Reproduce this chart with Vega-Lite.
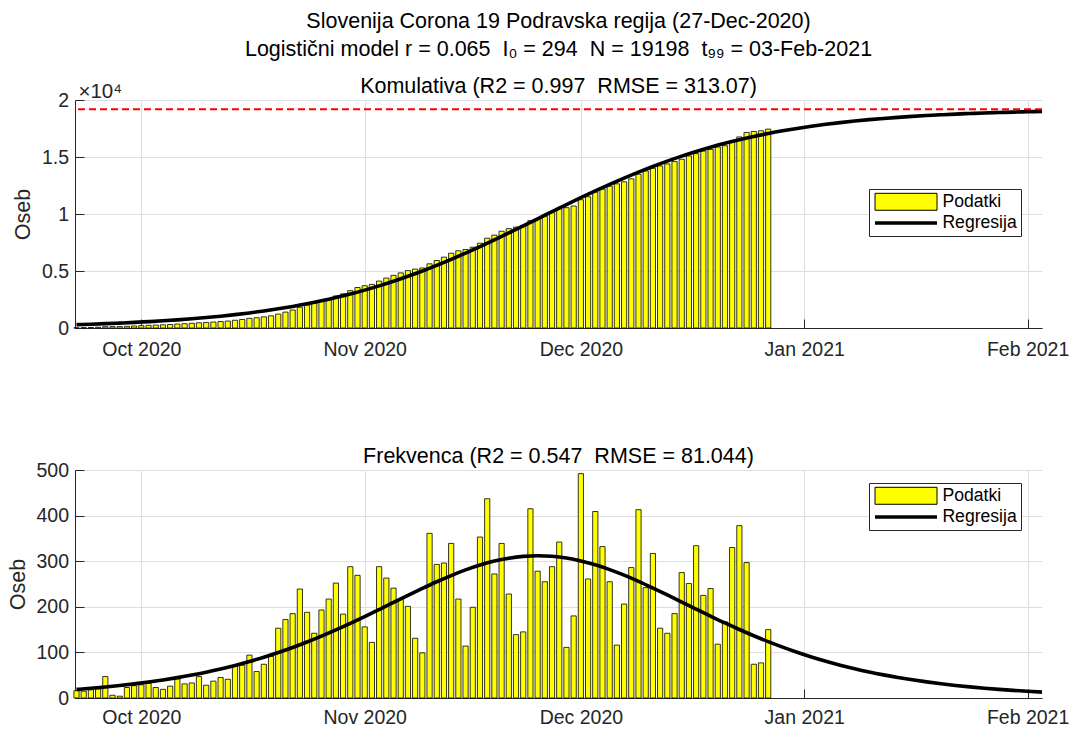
{
  "$schema": "https://vega.github.io/schema/vega-lite/v6.json",
  "background": "white",
  "padding": {"left": 7, "top": 11, "right": 5, "bottom": 5},
  "spacing": 86,
  "resolve": {
    "scale": {"fill": "independent", "stroke": "independent", "shape": "independent", "strokeWidth": "independent"},
    "legend": {"fill": "independent", "stroke": "independent", "shape": "independent", "strokeWidth": "independent"}
  },
  "config": {
    "font": "Liberation Sans",
    "view": {"stroke": null},
    "axis": {
      "labelFont": "Liberation Sans", "labelFontSize": 19.5, "labelColor": "#262626",
      "titleFont": "Liberation Sans", "titleFontSize": 21.5, "titleFontWeight": "normal", "titleColor": "#262626",
      "domainColor": "#262626", "tickColor": "#262626", "gridColor": "#dedede", "gridOpacity": 1,
      "tickSize": -9, "labelPadding": 15.5, "titlePadding": 6.5, "labelFlush": false, "labelOverlap": false
    },
    "title": {"font": "Liberation Sans", "fontWeight": "normal", "color": "#000000", "fontSize": 21.5},
    "legend": {
      "padding": 4, "rowPadding": -1, "labelFontSize": 17.6, "labelFont": "Liberation Sans", "labelColor": "#000000",
      "strokeColor": "#262626", "fillColor": "#ffffff", "symbolSize": 256, "labelOffset": 49.4, "cornerRadius": 0,
      "symbolOpacity": 1
    }
  },
  "datasets": {
    "bars": [
      {"date": "2020-09-22T00:00", "daily": 16, "cum": 16},
      {"date": "2020-09-23T00:00", "daily": 15, "cum": 31},
      {"date": "2020-09-24T00:00", "daily": 18, "cum": 49},
      {"date": "2020-09-25T00:00", "daily": 20, "cum": 69},
      {"date": "2020-09-26T00:00", "daily": 47, "cum": 116},
      {"date": "2020-09-27T00:00", "daily": 6, "cum": 122},
      {"date": "2020-09-28T00:00", "daily": 4, "cum": 126},
      {"date": "2020-09-29T00:00", "daily": 23, "cum": 149},
      {"date": "2020-09-30T00:00", "daily": 27, "cum": 176},
      {"date": "2020-10-01T00:00", "daily": 29, "cum": 205},
      {"date": "2020-10-02T00:00", "daily": 32, "cum": 237},
      {"date": "2020-10-03T00:00", "daily": 23, "cum": 260},
      {"date": "2020-10-04T00:00", "daily": 19, "cum": 279},
      {"date": "2020-10-05T00:00", "daily": 26, "cum": 305},
      {"date": "2020-10-06T00:00", "daily": 42, "cum": 347},
      {"date": "2020-10-07T00:00", "daily": 31, "cum": 378},
      {"date": "2020-10-08T00:00", "daily": 33, "cum": 411},
      {"date": "2020-10-09T00:00", "daily": 47, "cum": 458},
      {"date": "2020-10-10T00:00", "daily": 28, "cum": 486},
      {"date": "2020-10-11T00:00", "daily": 37, "cum": 523},
      {"date": "2020-10-12T00:00", "daily": 45, "cum": 568},
      {"date": "2020-10-13T00:00", "daily": 41, "cum": 609},
      {"date": "2020-10-14T00:00", "daily": 70, "cum": 679},
      {"date": "2020-10-15T00:00", "daily": 72, "cum": 751},
      {"date": "2020-10-16T00:00", "daily": 94, "cum": 845},
      {"date": "2020-10-17T00:00", "daily": 58, "cum": 903},
      {"date": "2020-10-18T00:00", "daily": 74, "cum": 977},
      {"date": "2020-10-19T00:00", "daily": 91, "cum": 1068},
      {"date": "2020-10-20T00:00", "daily": 153, "cum": 1221},
      {"date": "2020-10-21T00:00", "daily": 172, "cum": 1393},
      {"date": "2020-10-22T00:00", "daily": 185, "cum": 1578},
      {"date": "2020-10-23T00:00", "daily": 239, "cum": 1817},
      {"date": "2020-10-24T00:00", "daily": 188, "cum": 2005},
      {"date": "2020-10-25T00:00", "daily": 142, "cum": 2147},
      {"date": "2020-10-26T00:00", "daily": 193, "cum": 2340},
      {"date": "2020-10-27T00:00", "daily": 217, "cum": 2557},
      {"date": "2020-10-28T00:00", "daily": 252, "cum": 2809},
      {"date": "2020-10-29T00:00", "daily": 184, "cum": 2993},
      {"date": "2020-10-30T00:00", "daily": 288, "cum": 3281},
      {"date": "2020-10-31T00:00", "daily": 269, "cum": 3550},
      {"date": "2020-11-01T00:00", "daily": 156, "cum": 3706},
      {"date": "2020-11-02T00:00", "daily": 122, "cum": 3828},
      {"date": "2020-11-03T00:00", "daily": 288, "cum": 4116},
      {"date": "2020-11-04T00:00", "daily": 263, "cum": 4379},
      {"date": "2020-11-05T00:00", "daily": 241, "cum": 4620},
      {"date": "2020-11-06T00:00", "daily": 216, "cum": 4836},
      {"date": "2020-11-07T00:00", "daily": 201, "cum": 5037},
      {"date": "2020-11-08T00:00", "daily": 131, "cum": 5168},
      {"date": "2020-11-09T00:00", "daily": 99, "cum": 5267},
      {"date": "2020-11-10T00:00", "daily": 361, "cum": 5628},
      {"date": "2020-11-11T00:00", "daily": 293, "cum": 5921},
      {"date": "2020-11-12T00:00", "daily": 296, "cum": 6217},
      {"date": "2020-11-13T00:00", "daily": 339, "cum": 6556},
      {"date": "2020-11-14T00:00", "daily": 217, "cum": 6773},
      {"date": "2020-11-15T00:00", "daily": 114, "cum": 6887},
      {"date": "2020-11-16T00:00", "daily": 199, "cum": 7086},
      {"date": "2020-11-17T00:00", "daily": 353, "cum": 7439},
      {"date": "2020-11-18T00:00", "daily": 437, "cum": 7876},
      {"date": "2020-11-19T00:00", "daily": 272, "cum": 8148},
      {"date": "2020-11-20T00:00", "daily": 339, "cum": 8487},
      {"date": "2020-11-21T00:00", "daily": 228, "cum": 8715},
      {"date": "2020-11-22T00:00", "daily": 139, "cum": 8854},
      {"date": "2020-11-23T00:00", "daily": 145, "cum": 8999},
      {"date": "2020-11-24T00:00", "daily": 415, "cum": 9414},
      {"date": "2020-11-25T00:00", "daily": 278, "cum": 9600},
      {"date": "2020-11-26T00:00", "daily": 255, "cum": 9773},
      {"date": "2020-11-27T00:00", "daily": 288, "cum": 10122},
      {"date": "2020-11-28T00:00", "daily": 342, "cum": 10469},
      {"date": "2020-11-29T00:00", "daily": 111, "cum": 10556},
      {"date": "2020-11-30T00:00", "daily": 180, "cum": 10701},
      {"date": "2020-12-01T00:00", "daily": 492, "cum": 11254},
      {"date": "2020-12-02T00:00", "daily": 261, "cum": 11515},
      {"date": "2020-12-03T00:00", "daily": 409, "cum": 11922},
      {"date": "2020-12-04T00:00", "daily": 332, "cum": 12183},
      {"date": "2020-12-05T00:00", "daily": 255, "cum": 12445},
      {"date": "2020-12-06T00:00", "daily": 116, "cum": 12648},
      {"date": "2020-12-07T00:00", "daily": 206, "cum": 12823},
      {"date": "2020-12-08T00:00", "daily": 286, "cum": 13084},
      {"date": "2020-12-09T00:00", "daily": 413, "cum": 13491},
      {"date": "2020-12-10T00:00", "daily": 242, "cum": 13782},
      {"date": "2020-12-11T00:00", "daily": 317, "cum": 14015},
      {"date": "2020-12-12T00:00", "daily": 153, "cum": 14218},
      {"date": "2020-12-13T00:00", "daily": 142, "cum": 14393},
      {"date": "2020-12-14T00:00", "daily": 185, "cum": 14597},
      {"date": "2020-12-15T00:00", "daily": 275, "cum": 14800},
      {"date": "2020-12-16T00:00", "daily": 251, "cum": 15091},
      {"date": "2020-12-17T00:00", "daily": 334, "cum": 15294},
      {"date": "2020-12-18T00:00", "daily": 225, "cum": 15527},
      {"date": "2020-12-19T00:00", "daily": 240, "cum": 15672},
      {"date": "2020-12-20T00:00", "daily": 118, "cum": 15876},
      {"date": "2020-12-21T00:00", "daily": 167, "cum": 15992},
      {"date": "2020-12-22T00:00", "daily": 330, "cum": 16400},
      {"date": "2020-12-23T00:00", "daily": 378, "cum": 16760},
      {"date": "2020-12-24T00:00", "daily": 297, "cum": 17155},
      {"date": "2020-12-25T00:00", "daily": 74, "cum": 17242},
      {"date": "2020-12-26T00:00", "daily": 77, "cum": 17300},
      {"date": "2020-12-27T00:00", "daily": 150, "cum": 17446}
    ],
    "fit": [
      {"date": "2020-09-22T00:00", "c": 294.0, "d": 18.82},
      {"date": "2020-09-24T00:00", "c": 334.1, "d": 21.34},
      {"date": "2020-09-26T00:00", "c": 379.6, "d": 24.19},
      {"date": "2020-09-28T00:00", "c": 431.1, "d": 27.39},
      {"date": "2020-09-30T00:00", "c": 489.4, "d": 31.00},
      {"date": "2020-10-02T00:00", "c": 555.4, "d": 35.06},
      {"date": "2020-10-04T00:00", "c": 630.0, "d": 39.61},
      {"date": "2020-10-06T00:00", "c": 714.2, "d": 44.70},
      {"date": "2020-10-08T00:00", "c": 809.2, "d": 50.38},
      {"date": "2020-10-10T00:00", "c": 916.1, "d": 56.71},
      {"date": "2020-10-12T00:00", "c": 1036.4, "d": 63.73},
      {"date": "2020-10-14T00:00", "c": 1171.5, "d": 71.50},
      {"date": "2020-10-16T00:00", "c": 1323.0, "d": 80.07},
      {"date": "2020-10-18T00:00", "c": 1492.4, "d": 89.46},
      {"date": "2020-10-20T00:00", "c": 1681.4, "d": 99.72},
      {"date": "2020-10-22T00:00", "c": 1891.8, "d": 110.85},
      {"date": "2020-10-24T00:00", "c": 2125.3, "d": 122.85},
      {"date": "2020-10-26T00:00", "c": 2383.7, "d": 135.70},
      {"date": "2020-10-28T00:00", "c": 2668.6, "d": 149.35},
      {"date": "2020-10-30T00:00", "c": 2981.5, "d": 163.70},
      {"date": "2020-11-01T00:00", "c": 3323.8, "d": 178.64},
      {"date": "2020-11-03T00:00", "c": 3696.2, "d": 194.00},
      {"date": "2020-11-05T00:00", "c": 4099.5, "d": 209.57},
      {"date": "2020-11-07T00:00", "c": 4534.3, "d": 225.12},
      {"date": "2020-11-09T00:00", "c": 4999.5, "d": 240.34},
      {"date": "2020-11-11T00:00", "c": 5494.6, "d": 254.93},
      {"date": "2020-11-13T00:00", "c": 6018.2, "d": 268.55},
      {"date": "2020-11-15T00:00", "c": 6567.9, "d": 280.86},
      {"date": "2020-11-17T00:00", "c": 7139.5, "d": 291.49},
      {"date": "2020-11-19T00:00", "c": 7731.8, "d": 300.17},
      {"date": "2020-11-21T00:00", "c": 8339.7, "d": 306.60},
      {"date": "2020-11-23T00:00", "c": 8958.5, "d": 310.58},
      {"date": "2020-11-25T00:00", "c": 9579.8, "d": 311.97},
      {"date": "2020-11-27T00:00", "c": 10203.0, "d": 310.73},
      {"date": "2020-11-29T00:00", "c": 10821.2, "d": 306.91},
      {"date": "2020-12-01T00:00", "c": 11429.4, "d": 300.63},
      {"date": "2020-12-03T00:00", "c": 12022.8, "d": 292.08},
      {"date": "2020-12-05T00:00", "c": 12596.3, "d": 281.55},
      {"date": "2020-12-07T00:00", "c": 13147.5, "d": 269.34},
      {"date": "2020-12-09T00:00", "c": 13672.9, "d": 255.78},
      {"date": "2020-12-11T00:00", "c": 14170.4, "d": 241.21},
      {"date": "2020-12-13T00:00", "c": 14637.1, "d": 226.03},
      {"date": "2020-12-15T00:00", "c": 15073.8, "d": 210.49},
      {"date": "2020-12-17T00:00", "c": 15479.8, "d": 194.87},
      {"date": "2020-12-19T00:00", "c": 15853.0, "d": 179.54},
      {"date": "2020-12-21T00:00", "c": 16198.1, "d": 164.53},
      {"date": "2020-12-23T00:00", "c": 16511.6, "d": 150.18},
      {"date": "2020-12-25T00:00", "c": 16799.1, "d": 136.45},
      {"date": "2020-12-27T00:00", "c": 17058.9, "d": 123.55},
      {"date": "2020-12-29T00:00", "c": 17294.0, "d": 111.49},
      {"date": "2020-12-31T00:00", "c": 17505.2, "d": 100.33},
      {"date": "2021-01-02T00:00", "c": 17695.6, "d": 90.02},
      {"date": "2021-01-04T00:00", "c": 17865.9, "d": 80.58},
      {"date": "2021-01-06T00:00", "c": 18018.3, "d": 71.97},
      {"date": "2021-01-08T00:00", "c": 18154.3, "d": 64.15},
      {"date": "2021-01-10T00:00", "c": 18275.5, "d": 57.08},
      {"date": "2021-01-12T00:00", "c": 18383.1, "d": 50.72},
      {"date": "2021-01-14T00:00", "c": 18478.6, "d": 45.01},
      {"date": "2021-01-16T00:00", "c": 18563.5, "d": 39.88},
      {"date": "2021-01-18T00:00", "c": 18638.6, "d": 35.30},
      {"date": "2021-01-20T00:00", "c": 18705.1, "d": 31.22},
      {"date": "2021-01-22T00:00", "c": 18763.8, "d": 27.58},
      {"date": "2021-01-24T00:00", "c": 18815.7, "d": 24.36},
      {"date": "2021-01-26T00:00", "c": 18861.5, "d": 21.49},
      {"date": "2021-01-28T00:00", "c": 18901.8, "d": 18.96},
      {"date": "2021-01-30T00:00", "c": 18937.4, "d": 16.71},
      {"date": "2021-02-01T00:00", "c": 18968.8, "d": 14.72},
      {"date": "2021-02-03T00:00", "c": 18996.4, "d": 12.96}
    ],
    "series": [
      {"s": "Podatki"},
      {"s": "Regresija"}
    ]
  },
  "vconcat": [
    {
      "width": 967,
      "height": 228,
      "title": {
        "text": ["Slovenija Corona 19 Podravska regija (27-Dec-2020)", "Logistični model r = 0.065\u00a0\u00a0I₀ = 294\u00a0\u00a0N = 19198\u00a0\u00a0t₉₉ = 03-Feb-2021"],
        "subtitle": "Komulativa (R2 = 0.997\u00a0\u00a0RMSE = 313.07)",
        "anchor": "middle", "frame": "group", "lineHeight": 28,
        "subtitleFont": "Liberation Sans", "subtitleFontSize": 21.5, "subtitleColor": "#000000", "subtitlePadding": 15,
        "offset": -16
      },
      "resolve": {"axis": {"x": "independent"}},
      "layer": [
        {
          "data": {"name": "bars"},
          "mark": {"type": "bar", "width": 5.2, "color": "#ffff00", "stroke": "#000000", "strokeWidth": 0.8},
          "encoding": {
            "x": {
              "field": "date", "type": "temporal", "title": null,
              "scale": {"domain": [{"year": 2020, "month": 9, "date": 21, "hours": 19}, {"year": 2021, "month": 2, "date": 3, "hours": 0}], "padding": 0},
              "axis": {
                "values": [{"year": 2020, "month": 10, "date": 1}, {"year": 2020, "month": 11, "date": 1}, {"year": 2020, "month": 12, "date": 1}, {"year": 2021, "month": 1, "date": 1}, {"year": 2021, "month": 2, "date": 1}],
                "format": "%b %Y", "grid": true, "labelPadding": 21
              }
            },
            "y": {
              "field": "cum", "type": "quantitative", "title": "Oseb",
              "scale": {"domain": [0, 20000], "nice": false},
              "axis": {"values": [0, 5000, 10000, 15000, 20000], "labelExpr": "datum.value / 10000", "grid": true}
            }
          }
        },
        {
          "data": {"name": "fit"},
          "mark": {"type": "line", "color": "#000000", "strokeWidth": 3.6, "interpolate": "monotone"},
          "encoding": {
            "x": {
              "field": "date", "type": "temporal",
              "axis": {"orient": "top", "title": "×10⁴", "labels": false, "ticks": false, "domain": false, "grid": false,
                       "titleAnchor": "start", "titleAlign": "left", "titleFontSize": 20.5, "titleBaseline": "alphabetic", "titlePadding": 3, "titleX": 3}
            },
            "y": {"field": "c", "type": "quantitative", "title": "Oseb"}
          }
        },
        {
          "data": {"values": [{}]},
          "mark": {"type": "rule", "color": "#ff0000", "strokeWidth": 2, "strokeDash": [7, 4]},
          "encoding": {"y": {"datum": 19198, "type": "quantitative", "title": "Oseb"}}
        },
        {
          "data": {"name": "series"},
          "mark": {"type": "point", "filled": true, "opacity": 0},
          "encoding": {
            "fill": {
              "field": "s", "type": "nominal",
              "scale": {"domain": ["Podatki", "Regresija"], "range": ["#ffff00", "transparent"]},
              "legend": {"title": null, "orient": "none", "legendX": 794, "legendY": 89}
            },
            "stroke": {
              "field": "s", "type": "nominal",
              "scale": {"domain": ["Podatki", "Regresija"], "range": ["#000000", "#000000"]},
              "legend": {"title": null, "orient": "none", "legendX": 794, "legendY": 89}
            },
            "shape": {
              "field": "s", "type": "nominal",
              "scale": {"domain": ["Podatki", "Regresija"], "range": ["M-1,-1.06H6.75V1.06H-1Z", "M-1,0H6.75"]},
              "legend": {"title": null, "orient": "none", "legendX": 794, "legendY": 89}
            },
            "strokeWidth": {
              "field": "s", "type": "nominal",
              "scale": {"domain": ["Podatki", "Regresija"], "range": [1, 3.6], "padding": 0},
              "legend": {"title": null, "orient": "none", "legendX": 794, "legendY": 89}
            }
          }
        }
      ]
    },
    {
      "width": 967,
      "height": 228,
      "title": {"text": "Frekvenca (R2 = 0.547\u00a0\u00a0RMSE = 81.044)", "anchor": "middle", "frame": "group", "offset": -7},
      "layer": [
        {
          "data": {"name": "bars"},
          "mark": {"type": "bar", "width": 5.2, "color": "#ffff00", "stroke": "#000000", "strokeWidth": 0.8},
          "encoding": {
            "x": {
              "field": "date", "type": "temporal", "title": null,
              "scale": {"domain": [{"year": 2020, "month": 9, "date": 21, "hours": 19}, {"year": 2021, "month": 2, "date": 3, "hours": 0}], "padding": 0},
              "axis": {
                "values": [{"year": 2020, "month": 10, "date": 1}, {"year": 2020, "month": 11, "date": 1}, {"year": 2020, "month": 12, "date": 1}, {"year": 2021, "month": 1, "date": 1}, {"year": 2021, "month": 2, "date": 1}],
                "format": "%b %Y", "grid": true, "labelPadding": 19.5
              }
            },
            "y": {
              "field": "daily", "type": "quantitative", "title": "Oseb",
              "scale": {"domain": [0, 500], "nice": false},
              "axis": {"values": [0, 100, 200, 300, 400, 500], "grid": true}
            }
          }
        },
        {
          "data": {"name": "fit"},
          "mark": {"type": "line", "color": "#000000", "strokeWidth": 3.6, "interpolate": "monotone"},
          "encoding": {
            "x": {"field": "date", "type": "temporal"},
            "y": {"field": "d", "type": "quantitative", "title": "Oseb"}
          }
        },
        {
          "data": {"name": "series"},
          "mark": {"type": "point", "filled": true, "opacity": 0},
          "encoding": {
            "fill": {
              "field": "s", "type": "nominal",
              "scale": {"domain": ["Podatki", "Regresija"], "range": ["#ffff00", "transparent"]},
              "legend": {"title": null, "orient": "none", "legendX": 794, "legendY": 13}
            },
            "stroke": {
              "field": "s", "type": "nominal",
              "scale": {"domain": ["Podatki", "Regresija"], "range": ["#000000", "#000000"]},
              "legend": {"title": null, "orient": "none", "legendX": 794, "legendY": 13}
            },
            "shape": {
              "field": "s", "type": "nominal",
              "scale": {"domain": ["Podatki", "Regresija"], "range": ["M-1,-1.06H6.75V1.06H-1Z", "M-1,0H6.75"]},
              "legend": {"title": null, "orient": "none", "legendX": 794, "legendY": 13}
            },
            "strokeWidth": {
              "field": "s", "type": "nominal",
              "scale": {"domain": ["Podatki", "Regresija"], "range": [1, 3.6], "padding": 0},
              "legend": {"title": null, "orient": "none", "legendX": 794, "legendY": 13}
            }
          }
        }
      ]
    }
  ]
}
